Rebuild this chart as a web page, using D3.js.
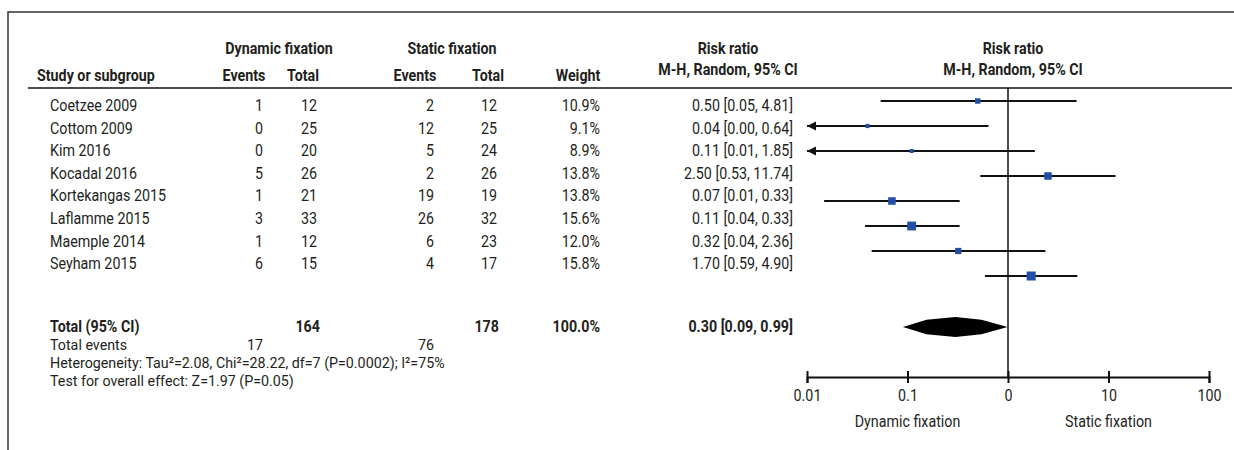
<!DOCTYPE html>
<html>
<head>
<meta charset="utf-8">
<script src="https://cdn.jsdelivr.net/npm/d3@7"></script>
<style>
  html, body { margin: 0; padding: 0; background: #fff; }
  svg { display: block; }
  text { font-family: Roboto, "Liberation Sans", sans-serif; font-size: 17px; fill: #231f20; }
  .b { font-weight: bold; }
  .f { font-size: 15px; }
</style>
</head>
<body>
<svg id="chart" width="1234" height="450"></svg>
<script>
// ---------- data ----------
const studies     = ["Coetzee 2009", "Cottom 2009", "Kim 2016", "Kocadal 2016", "Kortekangas 2015", "Laflamme 2015", "Maemple 2014", "Seyham 2015"];
const dynEvents   = [1, 0, 0, 5, 1, 3, 1, 6];
const dynTotal    = [12, 25, 20, 26, 21, 33, 12, 15];
const statEvents  = [2, 12, 5, 2, 19, 26, 6, 4];
const statTotal   = [12, 25, 24, 26, 19, 32, 23, 17];
const weights     = [10.9, 9.1, 8.9, 13.8, 13.8, 15.6, 12.0, 15.8];
const riskRatio   = [0.50, 0.04, 0.11, 2.50, 0.07, 0.11, 0.32, 1.70];
const ciLower     = [0.054, 0.002, 0.0065, 0.53, 0.0148, 0.0378, 0.044, 0.59];
const ciUpper     = [4.81, 0.64, 1.85, 11.74, 0.33, 0.33, 2.36, 4.90];

const totalDyn = 164, totalStat = 178, totalWeight = "100.0%";
const totalEventsDyn = 17, totalEventsStat = 76;
const pooled = { rr: 0.30, lo: 0.09, hi: 0.99 };
const heterogeneity = "Heterogeneity: Tau\u00B2=2.08, Chi\u00B2=28.22, df=7 (P=0.0002); I\u00B2=75%";
const overallTest = "Test for overall effect: Z=1.97 (P=0.05)";

const tickValues = [0.01, 0.1, 1, 10, 100];
const tickLabels = ["0.01", "0.1", "0", "10", "100"];
const favourLeft = "Dynamic fixation", favourRight = "Static fixation";

// ---------- drawing ----------
const svg = d3.select("#chart");
const fmt = v => v.toFixed(2);
const SX = 0.84;              // condensed look
const SXF = SX * 17 / 15;     // same advance for the smaller footer lines

// frame
svg.append("path").attr("d", "M8,450 V12 H1234").attr("fill", "none").attr("stroke", "#333").attr("stroke-width", 1.5);

// scales
const x = d3.scaleLog().domain([0.01, 100]).range([807, 1209]);
const yText = d3.scalePoint().domain(studies).range([105, 263]);
const yPlot = d3.scalePoint().domain(studies).range([101, 276]);
const size = d3.scaleLinear().domain([8.9, 15.8]).range([4, 9]);
const axisY = 377;
const headLineY = 88;

function txt(t, xx, yy, anchor, cls) {
  const sx = (cls === "f") ? SXF : SX;
  svg.append("text").attr("transform", `translate(${xx},${yy}) scale(${sx},1)`).attr("dy", "0.36em")
    .attr("text-anchor", anchor || "start").attr("class", cls || null).text(t);
}

// header
txt("Dynamic fixation", 279, 48, "middle", "b");
txt("Static fixation", 452, 48, "middle", "b");
txt("Study or subgroup", 37, 75, "start", "b");
txt("Events", 244, 75, "middle", "b");
txt("Total", 303, 75, "middle", "b");
txt("Events", 415, 75, "middle", "b");
txt("Total", 488, 75, "middle", "b");
txt("Weight", 578, 75, "middle", "b");
txt("Risk ratio", 728, 48, "middle", "b");
txt("M-H, Random, 95% CI", 728, 69, "middle", "b");
txt("Risk ratio", x(1) + 5, 48, "middle", "b");
txt("M-H, Random, 95% CI", x(1) + 5, 69, "middle", "b");

svg.append("line").attr("x1", 28).attr("x2", 1232).attr("y1", headLineY).attr("y2", headLineY)
  .attr("stroke", "#111").attr("stroke-width", 1.6);

// table rows
const colDynE = 263, colDynT = 317, colStatE = 434, colStatT = 497, colW = 600, colRR = 793;
studies.forEach((s, i) => {
  const yy = yText(s);
  txt(s, 50, yy);
  txt(dynEvents[i], colDynE, yy, "end");
  txt(dynTotal[i], colDynT, yy, "end");
  txt(statEvents[i], colStatE, yy, "end");
  txt(statTotal[i], colStatT, yy, "end");
  txt(weights[i].toFixed(1) + "%", colW, yy, "end");
  txt(fmt(riskRatio[i]) + " [" + fmt(ciLower[i]) + ", " + fmt(ciUpper[i]) + "]", colRR, yy, "end");
});

// footer
const yTot = 326;
txt("Total (95% CI)", 50, yTot, "start", "b");
txt(totalDyn, colDynT + 3, yTot, "end", "b");
txt(totalStat, colStatT + 2, yTot, "end", "b");
txt(totalWeight, colW, yTot, "end", "b");
txt(fmt(pooled.rr) + " [" + fmt(pooled.lo) + ", " + fmt(pooled.hi) + "]", colRR, yTot, "end", "b");
txt("Total events", 50, 345, "start", "f");
txt(totalEventsDyn, colDynE, 345, "end", "f");
txt(totalEventsStat, colStatE, 345, "end", "f");
txt(heterogeneity, 50, 363, "start", "f");
txt(overallTest, 50, 381, "start", "f");

// vertical line of no effect
svg.append("line").attr("x1", x(1)).attr("x2", x(1)).attr("y1", headLineY).attr("y2", axisY)
  .attr("stroke", "#111").attr("stroke-width", 1.5);

// CI lines + markers
const g = svg.append("g");
studies.forEach((s, i) => {
  const yy = yPlot(s);
  const lo = Math.max(ciLower[i], 0.01), hi = Math.min(ciUpper[i], 100);
  g.append("line").attr("x1", x(lo)).attr("x2", x(hi)).attr("y1", yy).attr("y2", yy)
    .attr("stroke", "#111").attr("stroke-width", 2);
  if (ciLower[i] < 0.01) {
    const ax = x(0.01);
    g.append("path").attr("d", `M${ax},${yy} L${ax + 9},${yy - 4.5} L${ax + 9},${yy + 4.5} Z`).attr("fill", "#111");
  }
  const sz = size(weights[i]);
  g.append("rect").attr("x", x(riskRatio[i]) - sz / 2).attr("y", yy - sz / 2)
    .attr("width", sz).attr("height", sz).attr("fill", "#1f4fa6");
});

// pooled diamond (slightly convex sides, like the reference)
const dh = 10, yd = yTot + 1;
const xl = x(pooled.lo), xc = x(pooled.rr), xr = x(pooled.hi);
const dPts = [
  [xl, yd], [xl + (xc - xl) * 0.45, yd - dh * 0.72], [xc, yd - dh], [xc + (xr - xc) * 0.5, yd - dh * 0.72], [xr, yd],
  [xc + (xr - xc) * 0.5, yd + dh * 0.72], [xc, yd + dh], [xl + (xc - xl) * 0.45, yd + dh * 0.72]
];
svg.append("path").attr("d", d3.line()(dPts) + "Z").attr("fill", "#000");

// axis
const axisG = svg.append("g").attr("transform", `translate(0,${axisY})`);
axisG.call(d3.axisBottom(x).tickValues(tickValues).tickFormat((d, i) => tickLabels[i]).tickSize(6).tickPadding(6));
axisG.attr("font-size", null).attr("font-family", null);
axisG.select(".domain").attr("stroke", "#111").attr("stroke-width", 2);
axisG.selectAll(".tick line").attr("stroke", "#111").attr("stroke-width", 2);
axisG.selectAll(".tick text").attr("fill", "#231f20").attr("transform", `scale(${SX},1)`);
const axisTop = svg.append("g").attr("transform", `translate(0,${axisY})`);
axisTop.call(d3.axisTop(x).tickValues(tickValues).tickFormat("").tickSize(6));
axisTop.select(".domain").remove();
axisTop.selectAll(".tick line").attr("stroke", "#111").attr("stroke-width", 2);

txt(favourLeft, x(0.1), 421, "middle");
txt(favourRight, x(10), 421, "middle");
</script>
</body>
</html>
